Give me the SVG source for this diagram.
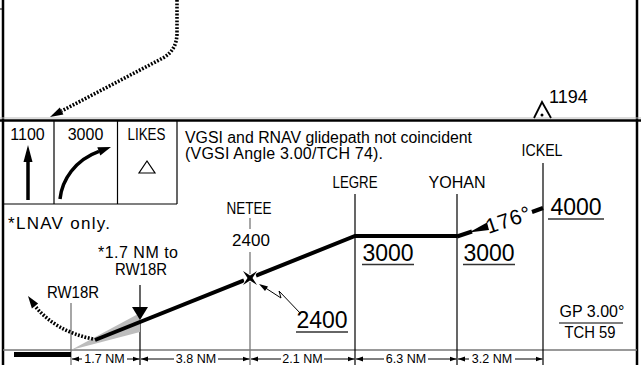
<svg xmlns="http://www.w3.org/2000/svg" width="641" height="365" viewBox="0 0 641 365">
<style>
text{font-family:"Liberation Sans",Arial,sans-serif;fill:#000}
.t15{font-size:16px}
.wp{font-size:16px;text-anchor:middle}
.alt{font-size:23px}
.dist{font-size:12.5px;text-anchor:middle}
.thin{stroke:#000;stroke-width:1.2;fill:none}
.gray{stroke:#777;stroke-width:1.3;fill:none}
.path{stroke:#000;stroke-width:4;fill:none}
.dots{stroke:#000;stroke-width:3.6;stroke-dasharray:1.8 1.6;fill:none}
.ul{stroke:#333;stroke-width:1.5}
.da{stroke:#000;stroke-width:1}
</style>
<defs>
<marker id="ah" markerWidth="7" markerHeight="6" refX="7" refY="3" orient="auto" markerUnits="userSpaceOnUse">
<path d="M0,0.5 L7,3 L0,5.5 Z" fill="#000"/>
</marker>
</defs>

<g id="frame">
<line x1="3" y1="0" x2="3" y2="365" stroke="#000" stroke-width="2.5"/>
<line x1="637" y1="0" x2="637" y2="365" stroke="#000" stroke-width="2.5"/>
<line x1="0" y1="9" x2="3" y2="9" stroke="#000" stroke-width="1"/>
<line x1="0" y1="118" x2="641" y2="118" stroke="#bbb" stroke-width="1"/>
<line x1="0" y1="120.5" x2="641" y2="120.5" stroke="#000" stroke-width="2.5"/>
<line x1="3" y1="350" x2="637" y2="350" stroke="#777" stroke-width="1.5"/>
</g>

<g id="plan-track">
<path class="dots" d="M177,0 L177,33 Q177,50 163,58 L61.6,111"/>
<polygon points="50,117 63.4,114.6 59.8,107.4" fill="#000"/>
</g>

<g id="obstacle-1194">
<path d="M534,118 L542,102 L551,118" fill="none" stroke="#000" stroke-width="1.8"/>
<circle cx="542" cy="115" r="1.5" fill="#000"/>
<text x="549" y="103" style="font-size:18px">1194</text>
</g>

<g id="minimums-boxes">
<line class="thin" x1="54" y1="121" x2="54" y2="204"/>
<line class="thin" x1="117.5" y1="121" x2="117.5" y2="204"/>
<line class="thin" x1="177" y1="121" x2="177" y2="204"/>
<line class="thin" x1="3" y1="204" x2="177" y2="204"/>
<text class="t15" x="27.5" y="140" text-anchor="middle">1100</text>
<text class="t15" x="85.5" y="140" text-anchor="middle">3000</text>
<text class="t15" x="146.5" y="140" text-anchor="middle" textLength="38" lengthAdjust="spacingAndGlyphs">LIKES</text>
<line x1="28" y1="200" x2="28" y2="158" stroke="#000" stroke-width="3.5"/>
<polygon points="28,145 23.5,162 32.5,162" fill="#000"/>
<path d="M60,199 C62,180 75,160 99,151.4" fill="none" stroke="#000" stroke-width="3.5"/>
<polygon points="111,147 100.3,155.6 97.3,147.2" fill="#000"/>
<polygon points="147,161 139,173 155,173" fill="none" stroke="#000" stroke-width="1.2"/>
</g>

<g id="notes">
<text class="t15" x="185" y="142.5" textLength="287" lengthAdjust="spacingAndGlyphs">VGSI and RNAV glidepath not coincident</text>
<text class="t15" x="185" y="158.5" textLength="198" lengthAdjust="spacing">(VGSI Angle 3.00/TCH 74).</text>
<text x="8" y="229" style="font-size:17px" textLength="102" lengthAdjust="spacing">*LNAV only.</text>
</g>

<g id="connectors">
<line class="gray" x1="71" y1="303" x2="71" y2="365"/>
<line class="thin" x1="140" y1="285" x2="140" y2="307"/>
<line class="thin" x1="140" y1="322" x2="140" y2="365"/>
<line class="gray" x1="250" y1="218" x2="250" y2="229"/>
<line class="gray" x1="250" y1="252" x2="250" y2="365"/>
<line class="thin" x1="355" y1="194" x2="355" y2="365"/>
<line class="thin" x1="457" y1="194" x2="457" y2="365"/>
<line class="thin" x1="543" y1="163" x2="543" y2="365"/>
<polygon points="71,350 140,313 140,332" fill="#bdbdbd"/>
<line class="path" x1="95" y1="340" x2="244" y2="280.4"/>
<polyline class="path" points="256,275.6 355,236 457,236"/>
<line class="path" stroke-width="3.5" x1="457" y1="236.5" x2="472" y2="231.5"/>
<polygon points="469,232.5 487,222.5 489,230" fill="#000"/>
<line class="path" stroke-width="3.5" x1="532" y1="212" x2="543" y2="208"/>
<path class="dots" d="M93,339 Q55,331 35,306"/>
<polygon points="28,296 38.1,303.4 31.9,308.6" fill="#000"/>
<polyline points="301,314 279,291 281,298 264,287" fill="none" stroke="#000" stroke-width="1"/>
<polygon points="259,284 268,286.5 265,291" fill="#000"/>
</g>

<g id="fix-NETEE">
<path d="M243,271 L250,275.5 L257,271 L252.5,278 L257,285 L250,280.5 L243,285 L247.5,278 Z" fill="#000" stroke="#fff" stroke-width="1.5" paint-order="stroke"/>
<text class="wp" x="249" y="214" textLength="45" lengthAdjust="spacingAndGlyphs">NETEE</text>
<text class="wp" x="251" y="246" style="font-size:17px">2400</text>
</g>

<g id="fix-LEGRE">
<text class="wp" x="355" y="188" textLength="45" lengthAdjust="spacingAndGlyphs">LEGRE</text>
<text class="alt" x="388" y="261" text-anchor="middle">3000</text>
<line class="ul" x1="362" y1="264.5" x2="414" y2="264.5"/>
</g>

<g id="fix-YOHAN">
<text class="wp" x="457" y="188" textLength="57" lengthAdjust="spacingAndGlyphs">YOHAN</text>
<text class="alt" x="489" y="261" text-anchor="middle">3000</text>
<line class="ul" x1="463" y1="264.5" x2="515" y2="264.5"/>
</g>

<g id="fix-ICKEL">
<text class="wp" x="542" y="156" textLength="41" lengthAdjust="spacingAndGlyphs">ICKEL</text>
<text class="alt" x="576" y="215" text-anchor="middle">4000</text>
<line class="ul" x1="548" y1="219" x2="604" y2="219"/>
</g>

<g id="course">
<text transform="translate(508,219.5) rotate(-18.6)" x="0" y="7.5" text-anchor="middle" style="font-size:21px" textLength="46" lengthAdjust="spacing">176°</text>
</g>

<g id="stepdown-2400">
<text class="alt" x="322" y="328" text-anchor="middle">2400</text>
<line class="ul" x1="296" y1="332" x2="348" y2="332"/>
</g>

<g id="runway">
<text class="wp" x="73" y="298" textLength="52" lengthAdjust="spacingAndGlyphs">RW18R</text>
<rect x="14" y="352" width="57" height="5" fill="#000"/>
</g>

<g id="vdp-note">
<text class="t15" x="138" y="258" text-anchor="middle" textLength="80" lengthAdjust="spacing">*1.7 NM to</text>
<text class="t15" x="141" y="275" text-anchor="middle" textLength="52" lengthAdjust="spacingAndGlyphs">RW18R</text>
<polygon points="132,307 148,307 140,320" fill="#000"/>
</g>

<g id="gp-tch">
<text class="t15" x="592" y="317" text-anchor="middle">GP 3.00°</text>
<line x1="559" y1="323" x2="623" y2="323" stroke="#000" stroke-width="1.2"/>
<text class="t15" x="590" y="338" text-anchor="middle" textLength="51" lengthAdjust="spacingAndGlyphs">TCH 59</text>
</g>

<g id="distances">
<line class="da" x1="82" y1="359" x2="72" y2="359" marker-end="url(#ah)"/>
<text class="dist" x="104.5" y="362.5">1.7 NM</text>
<line class="da" x1="127" y1="359" x2="139.5" y2="359" marker-end="url(#ah)"/>
<line class="da" x1="174" y1="359" x2="141" y2="359" marker-end="url(#ah)"/>
<text class="dist" x="196" y="362.5">3.8 NM</text>
<line class="da" x1="218" y1="359" x2="249.5" y2="359" marker-end="url(#ah)"/>
<line class="da" x1="281" y1="359" x2="251" y2="359" marker-end="url(#ah)"/>
<text class="dist" x="302.5" y="362.5">2.1 NM</text>
<line class="da" x1="324" y1="359" x2="354.5" y2="359" marker-end="url(#ah)"/>
<line class="da" x1="384" y1="359" x2="356" y2="359" marker-end="url(#ah)"/>
<text class="dist" x="406" y="362.5">6.3 NM</text>
<line class="da" x1="428" y1="359" x2="456.5" y2="359" marker-end="url(#ah)"/>
<line class="da" x1="469" y1="359" x2="458" y2="359" marker-end="url(#ah)"/>
<text class="dist" x="492" y="362.5">3.2 NM</text>
<line class="da" x1="515" y1="359" x2="542.5" y2="359" marker-end="url(#ah)"/>
</g>
</svg>
